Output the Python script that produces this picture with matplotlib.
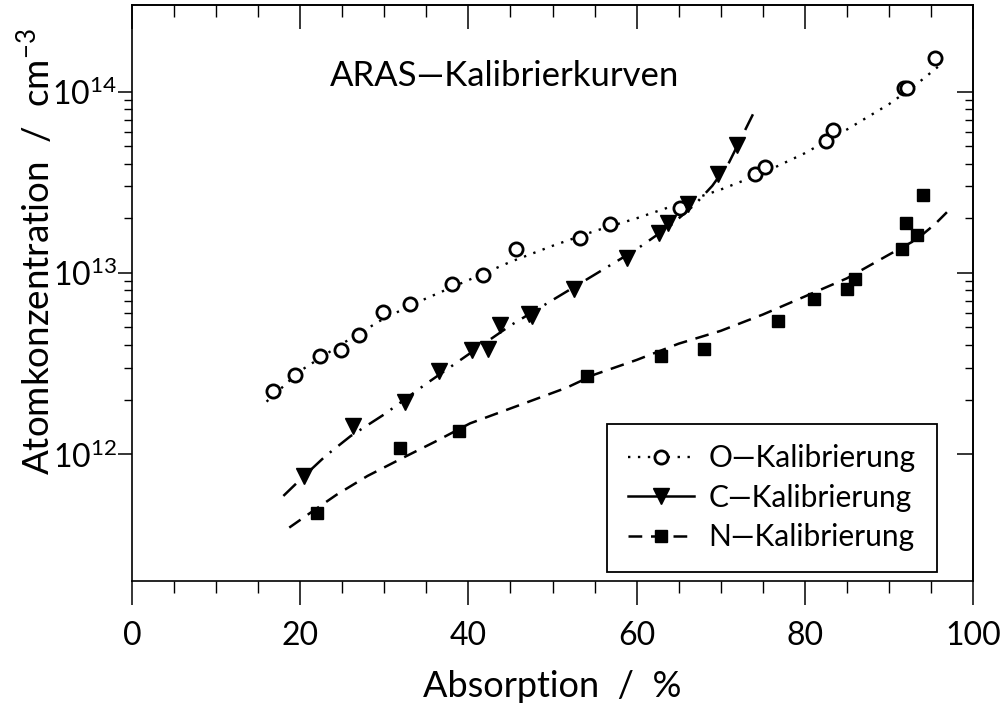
import matplotlib
matplotlib.use('Agg')
import matplotlib.pyplot as plt
from matplotlib.ticker import FixedLocator, LogFormatterMathtext, NullFormatter, MultipleLocator
from matplotlib.lines import Line2D

plt.rcParams['font.family'] = ['Lato', 'DejaVu Sans']
plt.rcParams['font.weight'] = 'normal'
plt.rcParams['text.color'] = 'black'
plt.rcParams['xtick.color'] = 'black'
plt.rcParams['ytick.color'] = 'black'
plt.rcParams['mathtext.default'] = 'regular'

# ---- measured data (Absorption in %, concentration in cm^-3) ----
o_abs = [16.8, 19.4, 22.3, 24.9, 27.0, 29.9, 33.1, 38.1, 41.7, 45.7, 53.3, 56.8,
         65.2, 74.1, 75.3, 82.5, 83.4, 91.8, 92.2, 95.5]
o_conc = [2.22e12, 2.75e12, 3.47e12, 3.77e12, 4.53e12, 6.07e12, 6.75e12, 8.7e12,
          9.7e12, 1.36e13, 1.55e13, 1.87e13, 2.29e13, 3.52e13, 3.84e13, 5.34e13,
          6.12e13, 1.05e14, 1.04e14, 1.53e14]

c_abs = [20.45, 26.3, 32.5, 36.5, 40.4, 42.3, 43.8, 47.2, 47.6, 52.6, 58.8, 62.7,
         63.7, 66.1, 69.7, 71.9]
c_conc = [7.6e11, 1.44e12, 1.94e12, 2.86e12, 3.77e12, 3.82e12, 5.14e12, 5.9e12,
          5.8e12, 8.1e12, 1.21e13, 1.66e13, 1.89e13, 2.39e13, 3.50e13, 5.08e13]

n_abs = [22.0, 31.9, 38.9, 54.1, 62.9, 68.0, 76.8, 81.1, 85.0, 86.0, 91.5, 92.0,
         93.3, 94.0]
n_conc = [4.72e11, 1.08e12, 1.35e12, 2.69e12, 3.47e12, 3.82e12, 5.41e12, 7.22e12,
          8.17e12, 9.27e12, 1.35e13, 1.89e13, 1.61e13, 2.69e13]

# ---- calibration curves ----
o_fit_abs = [16, 20, 25, 30, 35, 40, 45, 50, 55, 60, 65, 70, 75, 80, 85, 90, 93, 96.5]
o_fit_conc = [1.95e12, 2.88e12, 4.07e12, 5.62e12, 7.24e12, 9.12e12, 1.15e13, 1.41e13,
              1.70e13, 2.0e13, 2.40e13, 2.88e13, 3.55e13, 4.57e13, 6.17e13, 8.51e13,
              1.07e14, 1.45e14]

c_fit_abs = [18, 20, 23, 26, 30, 35, 40, 45, 50, 55, 60, 64, 67, 69, 71, 72.5, 74]
c_fit_conc = [5.89e11, 7.24e11, 9.77e11, 1.26e12, 1.66e12, 2.45e12, 3.55e12, 5.13e12,
              7.08e12, 9.77e12, 1.35e13, 1.82e13, 2.40e13, 3.02e13, 4.07e13, 5.62e13,
              7.76e13]

n_fit_abs = [18.7, 21, 24.3, 28, 32.3, 36, 40.2, 46, 51.7, 55, 60, 65, 70, 75, 80, 85,
             90, 93.3, 95.5, 97.6]
n_fit_conc = [3.94e11, 4.68e11, 5.97e11, 7.59e11, 9.6e11, 1.17e12, 1.48e12, 1.86e12,
              2.33e12, 2.75e12, 3.31e12, 4.07e12, 4.79e12, 5.89e12, 7.41e12, 9.33e12,
              1.26e13, 1.53e13, 1.86e13, 2.33e13]

labels = ['O\u2014Kalibrierung', 'C\u2014Kalibrierung', 'N\u2014Kalibrierung']
x_ticks = [0, 20, 40, 60, 80, 100]
y_major = [1e12, 1e13, 1e14]
y_minor = [k * 10.0 ** e for e in (12, 13) for k in range(2, 10)]

fig = plt.figure(figsize=(10.01, 7.10), dpi=100)
ax = fig.add_axes([132 / 1001, 129 / 710, 841 / 1001, 576 / 710])

dot = (0, (1, 3.2))
dashdot = (0, (7, 3.5, 0.9, 3.5))
dash = (0, (5.5, 3.5))

ax.plot(o_fit_abs, o_fit_conc, color='black', lw=1.7, ls=dot)
ax.plot(c_fit_abs, c_fit_conc, color='black', lw=1.8, ls=dashdot)
ax.plot(n_fit_abs, n_fit_conc, color='black', lw=1.8, ls=dash)

ax.plot(o_abs, o_conc, ls='none', marker='o', ms=9.5, mfc='white', mec='black', mew=2.0)
ax.plot(c_abs, c_conc, ls='none', marker='v', ms=11, mfc='black', mec='black')
ax.plot(n_abs, n_conc, ls='none', marker='s', ms=8.2, mfc='black', mec='black')

ax.set_yscale('log')
ax.set_xlim(0, 100)
ax.set_ylim(2e11, 3e14)

ax.xaxis.set_major_locator(FixedLocator(x_ticks))
ax.xaxis.set_minor_locator(MultipleLocator(5))
ax.yaxis.set_major_locator(FixedLocator(y_major))
ax.yaxis.set_minor_locator(FixedLocator(y_minor))
ax.yaxis.set_major_formatter(LogFormatterMathtext())
ax.yaxis.set_minor_formatter(NullFormatter())

for s in ax.spines.values():
    s.set_linewidth(1.2)

ax.tick_params(axis='x', which='major', direction='out', length=17, width=1.1,
               labelsize=23, pad=12)
ax.tick_params(axis='x', which='minor', direction='out', length=8.5, width=1.0)
ax.tick_params(axis='y', which='major', direction='out', length=10, width=1.1,
               labelsize=23, pad=1)
ax.tick_params(axis='y', which='minor', direction='out', length=6, width=1.0)

top = ax.secondary_xaxis('top')
top.xaxis.set_major_locator(FixedLocator(x_ticks))
top.xaxis.set_minor_locator(MultipleLocator(5))
top.tick_params(which='major', direction='in', length=17, width=1.1, labeltop=False)
top.tick_params(which='minor', direction='in', length=8.5, width=1.0)
top.spines['top'].set_linewidth(1.2)

right = ax.secondary_yaxis('right', functions=(lambda v: v, lambda v: v))
right.set_yscale('log')
right.yaxis.set_major_locator(FixedLocator(y_major))
right.yaxis.set_minor_locator(FixedLocator(y_minor))
right.yaxis.set_minor_formatter(NullFormatter())
right.tick_params(which='major', direction='in', length=11.5, width=1.1, labelright=False)
right.tick_params(which='minor', direction='in', length=5.8, width=1.0)
right.spines['right'].set_linewidth(1.2)

ax.text((330 - 132) / 841, (581 - 86) / 576, 'ARAS\u2014Kalibrierkurven',
        transform=ax.transAxes, fontsize=25, ha='left', va='baseline')

fig.text(0.552, 13 / 710, 'Absorption  /  %', fontsize=26, ha='center', va='baseline')
fig.text(36 / 1001, (710 - 252) / 710, 'Atomkonzentration  /  cm$^{-3}$', fontsize=26.5,
         rotation=90, ha='center', va='center')

handles = [
    Line2D([], [], color='black', lw=1.7, ls=dot, marker='o', ms=9.5, mfc='white',
           mec='black', mew=2.0),
    Line2D([], [], color='black', lw=1.8, ls='-', marker='v', ms=11, mfc='black',
           mec='black'),
    Line2D([], [], color='black', lw=1.8, ls=dash, marker='s', ms=8.2, mfc='black',
           mec='black'),
]
leg = ax.legend(handles, labels, loc='lower left',
                bbox_to_anchor=((607 - 132) / 841, (581 - 572) / 576),
                fontsize=21.5, frameon=True, fancybox=False, framealpha=1,
                edgecolor='black', handlelength=2.2, handletextpad=0.5,
                labelspacing=0.38, borderpad=0.7, borderaxespad=0, numpoints=1)
leg.get_frame().set_linewidth(1.3)

fig.savefig('out.png', dpi=100)
